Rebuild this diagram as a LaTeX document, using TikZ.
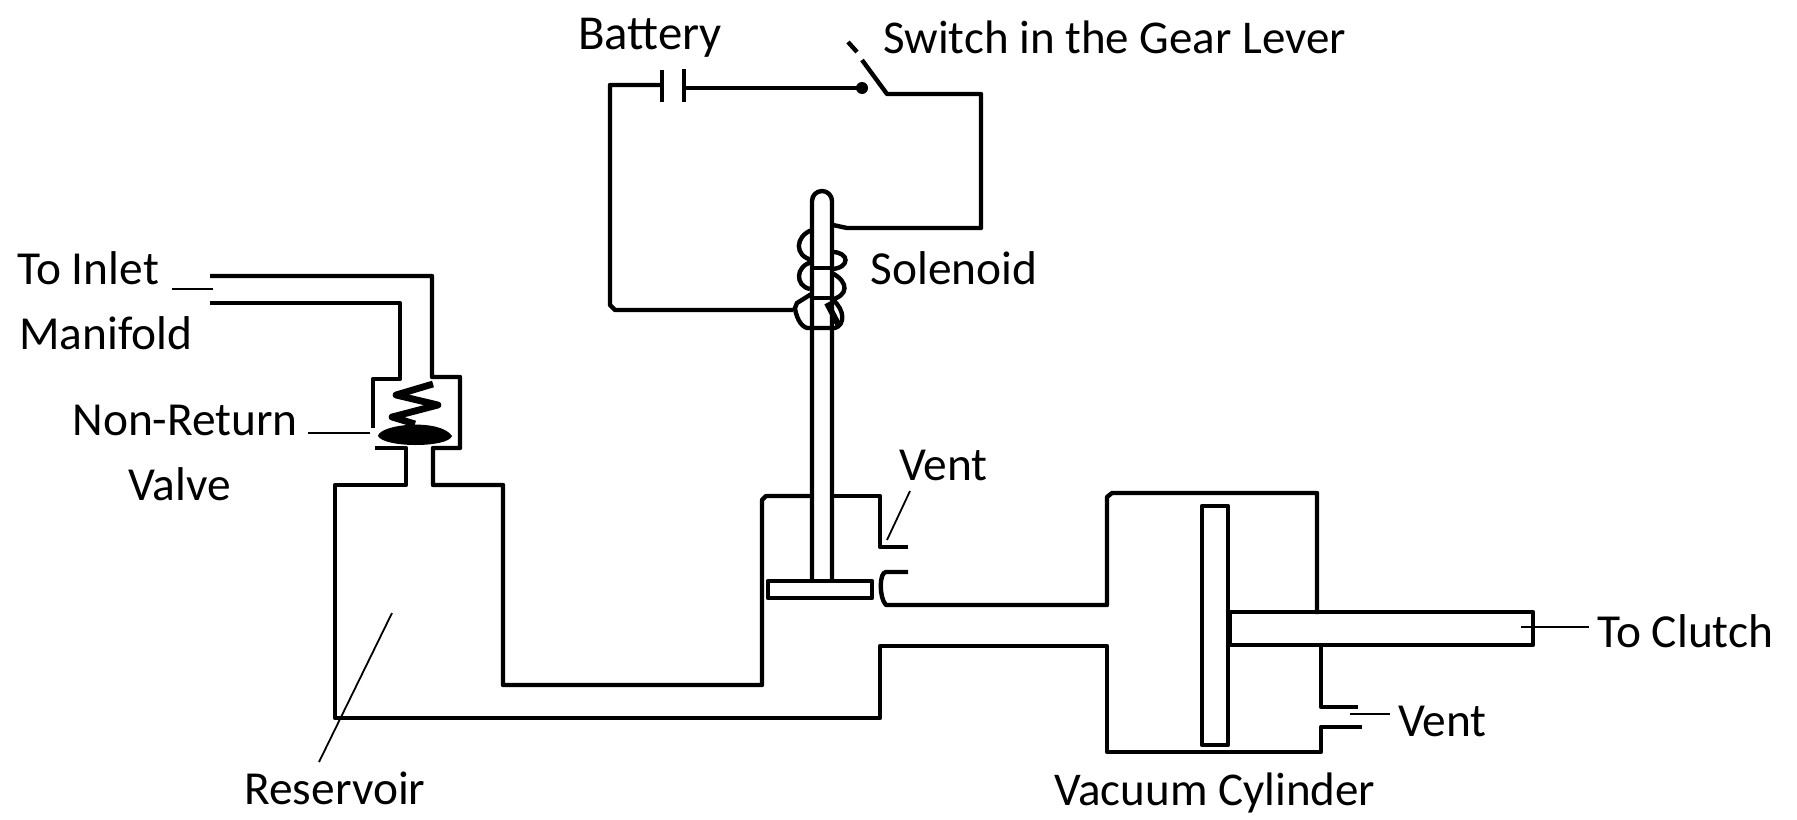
\documentclass[tikz,border=0pt]{standalone}
\usepackage{fontspec}
\setmainfont{Carlito}
\usepackage{tikz}

\begin{document}
\begin{tikzpicture}[x=0.5pt,y=-0.5pt]
      \tikzstyle{pipe}=[line width=2.2pt, draw=black, line join=round]
      \tikzstyle{leader}=[line width=0.9pt, draw=black]
      \tikzstyle{coil}=[line width=2.2pt, draw=black]
      \tikzstyle{label_text}=[inner sep=0pt, anchor=base west, font=\fontsize{23.7}{28}\selectfont]

      \useasboundingbox (0,0) rectangle (1797,819);

      % labels
      \node (to_inlet) at (17,284) [label_text] {To Inlet};
      \node (manifold) at (19,349) [label_text] {Manifold};
      \node (non_return) at (72,435) [label_text] {Non-Return};
      \node (valve) at (128,500) [label_text] {Valve};
      \node (battery) at (578,49) [label_text, font=\fontsize{24.4}{28}\selectfont] {Battery};
      \node (switch) at (883,54) [label_text, font=\fontsize{23.5}{28}\selectfont] {Switch in the Gear Lever};
      \node (solenoid) at (870,284) [label_text] {Solenoid};
      \node (vent_top) at (899,480) [label_text] {Vent};
      \node (to_clutch) at (1597,647) [label_text] {To Clutch};
      \node (vent_low) at (1398,736) [label_text] {Vent};
      \node (reservoir) at (244,804) [label_text] {Reservoir};
      \node (vacuum) at (1054,805) [label_text, font=\fontsize{23.5}{28}\selectfont] {Vacuum Cylinder};

      % circuit
      \begin{scope}
        \coordinate (contact) at (862,88);
        \draw [pipe] (662,85) -- (610,85) -- (610,305) -- (615,310) -- (793,310);
        \draw [pipe] (662,70) -- (662,102);
        \draw [pipe] (684,69) -- (684,102);
        \draw [pipe] (684,88) -- (contact);
        \fill (contact) circle (6);
        \draw [pipe] (848,42) -- (857,52);
        \draw [pipe] (862,60) -- (887,94) -- (981,94) -- (981,228) -- (847,228) -- (833,225);
      \end{scope}

      % solenoid
      \begin{scope}
        \draw [pipe] (812,580) -- (812,201) arc (180:360:10) -- (832,580);
        \draw [coil] (812,230) .. controls (795,236) and (794,256) .. (812,260);
        \draw [coil] (812,262) .. controls (795,266) and (795,286) .. (810,289);
        \draw [coil] (832,252) .. controls (850,252) and (850,268) .. (832,269);
        \draw [coil] (832,273) .. controls (849,282) and (849,296) .. (830,300);
        \draw [coil] (812,268) -- (832,268);
        \draw [coil] (812,298) -- (832,298);
        \draw [coil] (813,293) -- (797,303) -- (795,308) .. controls (796,316) and (800,326) .. (807,328) -- (835,328) .. controls (845,325) and (845,310) .. (833,300);
        \draw [pipe, line width=3pt] (827,303) -- (838,324);
      \end{scope}

      % valve and reservoir
      \begin{scope}
        \draw [pipe] (210,276) -- (432,276) -- (432,377) -- (460,377) -- (460,448) -- (433,448) -- (433,485) -- (503,485) -- (503,685) -- (762,685) -- (762,500) -- (766,496) -- (812,496);
        \draw [pipe] (210,303) -- (400,303) -- (400,379) -- (373,379) -- (373,428);
        \draw [pipe] (375,448) -- (406,448) -- (406,485) -- (335,485) -- (335,718) -- (880,718) -- (880,646) -- (1107,646) -- (1107,752) -- (1321,752) -- (1321,727) -- (1362,727);
        \draw [coil, line width=3.4pt, line join=round] (433,384) -- (396,395) -- (438,405) -- (392,417) -- (415,424);
        \fill (378,436) .. controls (380,424) and (440,418) .. (452,436) .. controls (448,448) and (384,448) .. (378,436) -- cycle;
      \end{scope}

      % slide valve
      \begin{scope}
        \draw [pipe] (832,496) -- (880,496) -- (880,547) -- (908,547);
        \draw [pipe] (768,581) rectangle (872,598);
        \draw [pipe] (908,572) -- (886,572) .. controls (879,572) and (879,598) .. (886,605) -- (1107,605) -- (1107,497) -- (1112,493) -- (1317,493) -- (1317,614);
      \end{scope}

      % cylinder
      \begin{scope}
        \draw [pipe] (1202,506) rectangle (1228,745);
        \draw [pipe] (1230,612) rectangle (1533,645);
        \draw [pipe] (1321,645) -- (1321,707) -- (1358,707);
      \end{scope}

      % leaders
      \coordinate (inlet_pipe) at (213,289);
      \coordinate (valve_body) at (370,433);
      \coordinate (res_wall) at (319,762);
      \coordinate (res_inner) at (392,613);
      \coordinate (vent_pipe) at (887,540);
      \coordinate (rod_end) at (1521,627);
      \coordinate (vent_gap) at (1350,714);
      \draw [leader] (172,289) -- (inlet_pipe);
      \draw [leader] (308,433) -- (valve_body);
      \draw [leader] (res_inner) -- (res_wall);
      \draw [leader] (910,491) -- (vent_pipe);
      \draw [leader] (rod_end) -- ([xshift=-4]rod_end -| to_clutch.west);
      \draw [leader] (vent_gap) -- ([xshift=-4]vent_gap -| vent_low.west);
    \end{tikzpicture}
\end{document}
